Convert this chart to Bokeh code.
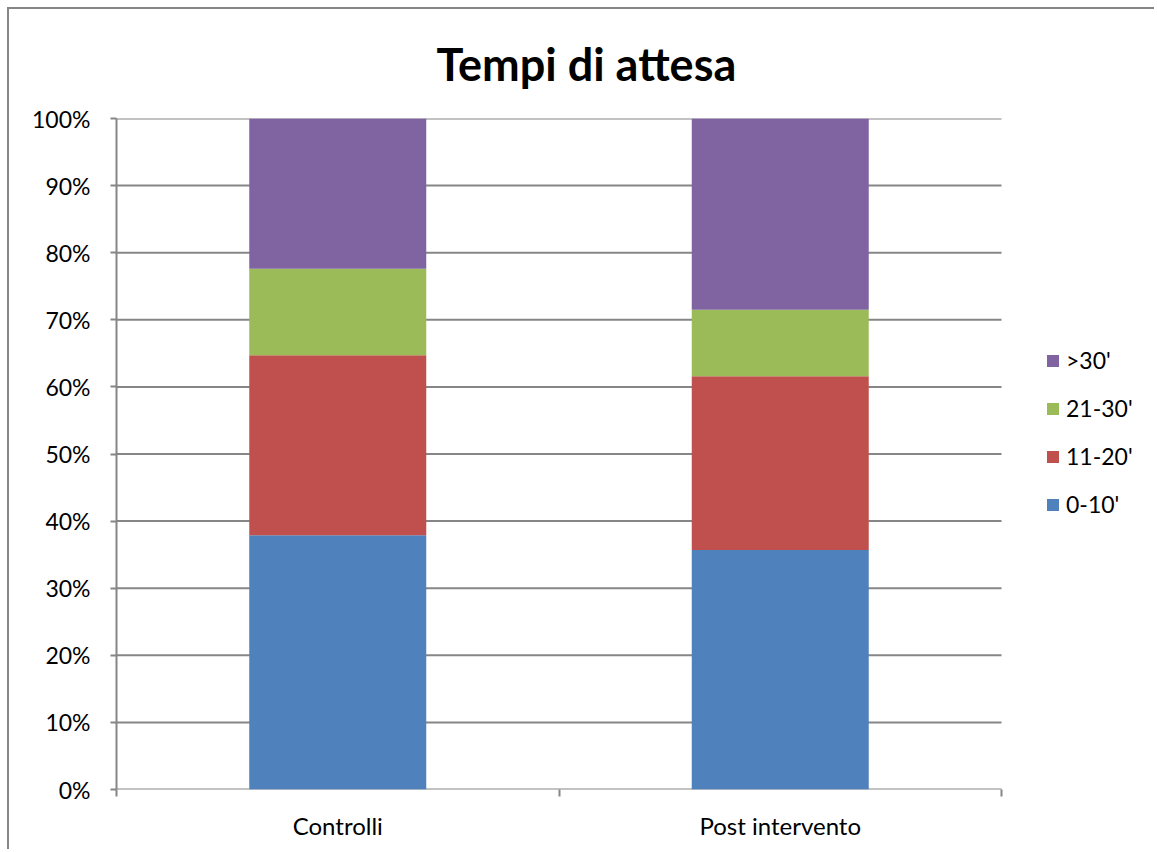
from bokeh.plotting import figure
from bokeh.models import ColumnDataSource, FixedTicker, NumeralTickFormatter, Range1d, Legend
from bokeh.embed import file_html
from bokeh.resources import INLINE

categories = ["Controlli", "Post intervento"]
series_names = ["0-10'", "11-20'", "21-30'", ">30'"]
v_0_10 = [37.9, 35.7]
v_11_20 = [26.8, 25.9]
v_21_30 = [12.9, 9.9]
v_30 = [22.4, 28.5]
colors = ["#4F81BD", "#C0504D", "#9BBB59", "#8064A2"]
y_ticks = [0, 0.1, 0.2, 0.3, 0.4, 0.5, 0.6, 0.7, 0.8, 0.9, 1.0]

FONT = "Lato"
GRAY = "#868686"

n = len(categories)
xs = [i + 0.5 for i in range(n)]
data = {"x": xs}
for name, vals in zip(series_names, [v_0_10, v_11_20, v_21_30, v_30]):
    data[name] = [v / 100.0 for v in vals]
source = ColumnDataSource(data)

# frame spans the plot area plus the legend area on the right;
# plot area = 885 px, whole frame = 1032 px
x_end = n * 1032.0 / 885.0

p = figure(width=1147, height=842, output_backend="svg", toolbar_location=None,
           x_range=Range1d(0, x_end), y_range=Range1d(0, 1),
           min_border_left=107, min_border_right=8, min_border_top=109, min_border_bottom=62,
           styles={"margin-left": "7px", "margin-top": "7px",
                   "border-left": "2px solid #868686", "border-top": "2px solid #868686"})
p.outline_line_color = None

# horizontal gridlines limited to the plot area
p.segment(x0=0, x1=n, y0=y_ticks, y1=y_ticks, line_color=GRAY, line_width=2)

renderers = p.vbar_stack(series_names, x="x", width=0.4, color=colors, source=source,
                         line_color=None)

# title
p.title.text = "Tempi di attesa"
p.title.text_font = FONT
p.title.text_font_style = "bold"
p.title.text_font_size = "45px"
p.title.align = "left"
p.title.vertical_align = "top"
p.title.offset = 320
p.title.standoff = 51
p.title.text_color = "black"

# y axis
p.yaxis.ticker = FixedTicker(ticks=y_ticks)
p.yaxis.formatter = NumeralTickFormatter(format="0%")
p.yaxis.major_label_text_font = FONT
p.yaxis.major_label_text_font_size = "23px"
p.yaxis.major_label_text_color = "black"
p.yaxis.axis_line_color = GRAY
p.yaxis.axis_line_width = 2
p.yaxis.major_tick_line_color = GRAY
p.yaxis.major_tick_line_width = 2
p.yaxis.major_tick_out = 6
p.yaxis.major_tick_in = 0
p.yaxis.minor_tick_line_color = None
p.yaxis.major_label_standoff = 20

# x axis (line drawn by the 0% gridline)
p.xaxis.ticker = FixedTicker(ticks=xs, minor_ticks=list(range(n + 1)))
p.xaxis.major_label_overrides = {x: c for x, c in zip(xs, categories)}
p.xaxis.major_label_text_font = FONT
p.xaxis.major_label_text_font_size = "24px"
p.xaxis.major_label_text_color = "black"
p.xaxis.axis_line_color = None
p.xaxis.major_tick_line_color = None
p.xaxis.major_tick_out = 6
p.xaxis.major_tick_in = 0
p.xaxis.minor_tick_line_color = GRAY
p.xaxis.minor_tick_line_width = 2
p.xaxis.minor_tick_out = 7
p.xaxis.minor_tick_in = 0
p.xaxis.major_label_standoff = 14

p.xgrid.grid_line_color = None
p.ygrid.grid_line_color = None

items = [(name, [r]) for name, r in zip(series_names, renderers)][::-1]
legend = Legend(items=items, location=(929, 271))
legend.glyph_width = 15
legend.glyph_height = 15
legend.label_height = 24
legend.spacing = 20
legend.padding = 0
legend.margin = 0
legend.label_standoff = 6
legend.border_line_color = None
legend.background_fill_alpha = 0
legend.label_text_font = FONT
legend.label_text_font_size = "23px"
legend.label_text_color = "black"
p.add_layout(legend, "center")

open("out.html", "w").write(file_html(p, INLINE))
